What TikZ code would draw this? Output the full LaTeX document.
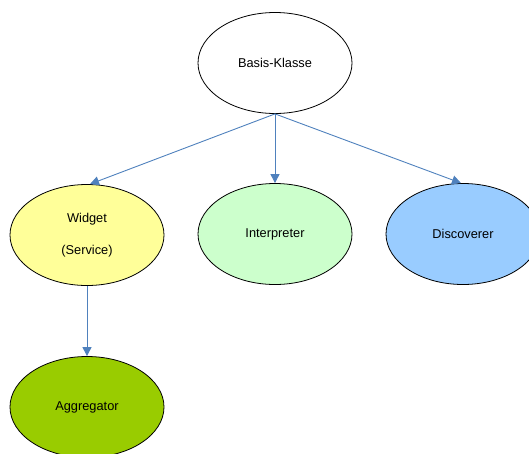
\documentclass[tikz,border=0pt]{standalone}
\usepackage{fontspec}
\setmainfont{Liberation Sans}
\usetikzlibrary{shapes.geometric,arrows.meta}
\definecolor{arrblue}{HTML}{4F81BD}
\definecolor{widgetyellow}{HTML}{FFFF99}
\definecolor{interpgreen}{HTML}{CCFFCC}
\definecolor{discblue}{HTML}{99CCFF}
\definecolor{aggrgreen}{HTML}{99CC00}
\tikzset{
  oval/.style={ellipse, draw=black, line width=0.8pt, minimum width=154pt, minimum height=101pt, inner sep=0pt, font=\fontsize{12.8}{15}\selectfont, align=center},
  arr/.style={draw=arrblue, line width=0.9pt, -{Triangle[length=9pt,width=9pt]}}
}
\begin{document}
\begin{tikzpicture}[x=1pt,y=-1pt]
\useasboundingbox (0,0) rectangle (529,453);
\clip (0,0) rectangle (529,453);
\node[oval, fill=white] (b) at (275,63) {Basis-Klasse};
\node[oval, fill=widgetyellow] (w) at (87,235) {Widget\\[17pt](Service)};
\node[oval, fill=interpgreen] (i) at (275,234) {Interpreter};
\node[oval, fill=discblue] (d) at (463,234) {Discoverer};
\node[oval, fill=aggrgreen] (a) at (87,407) {Aggregator};
\draw[arr] (b.south) -- ([xshift=3pt]w.north);
\draw[arr] (b.south) -- (i.north);
\draw[arr] (b.south) -- ([xshift=-2pt]d.north);
\draw[arr] (w.south) -- (a.north);
\end{tikzpicture}
\end{document}
